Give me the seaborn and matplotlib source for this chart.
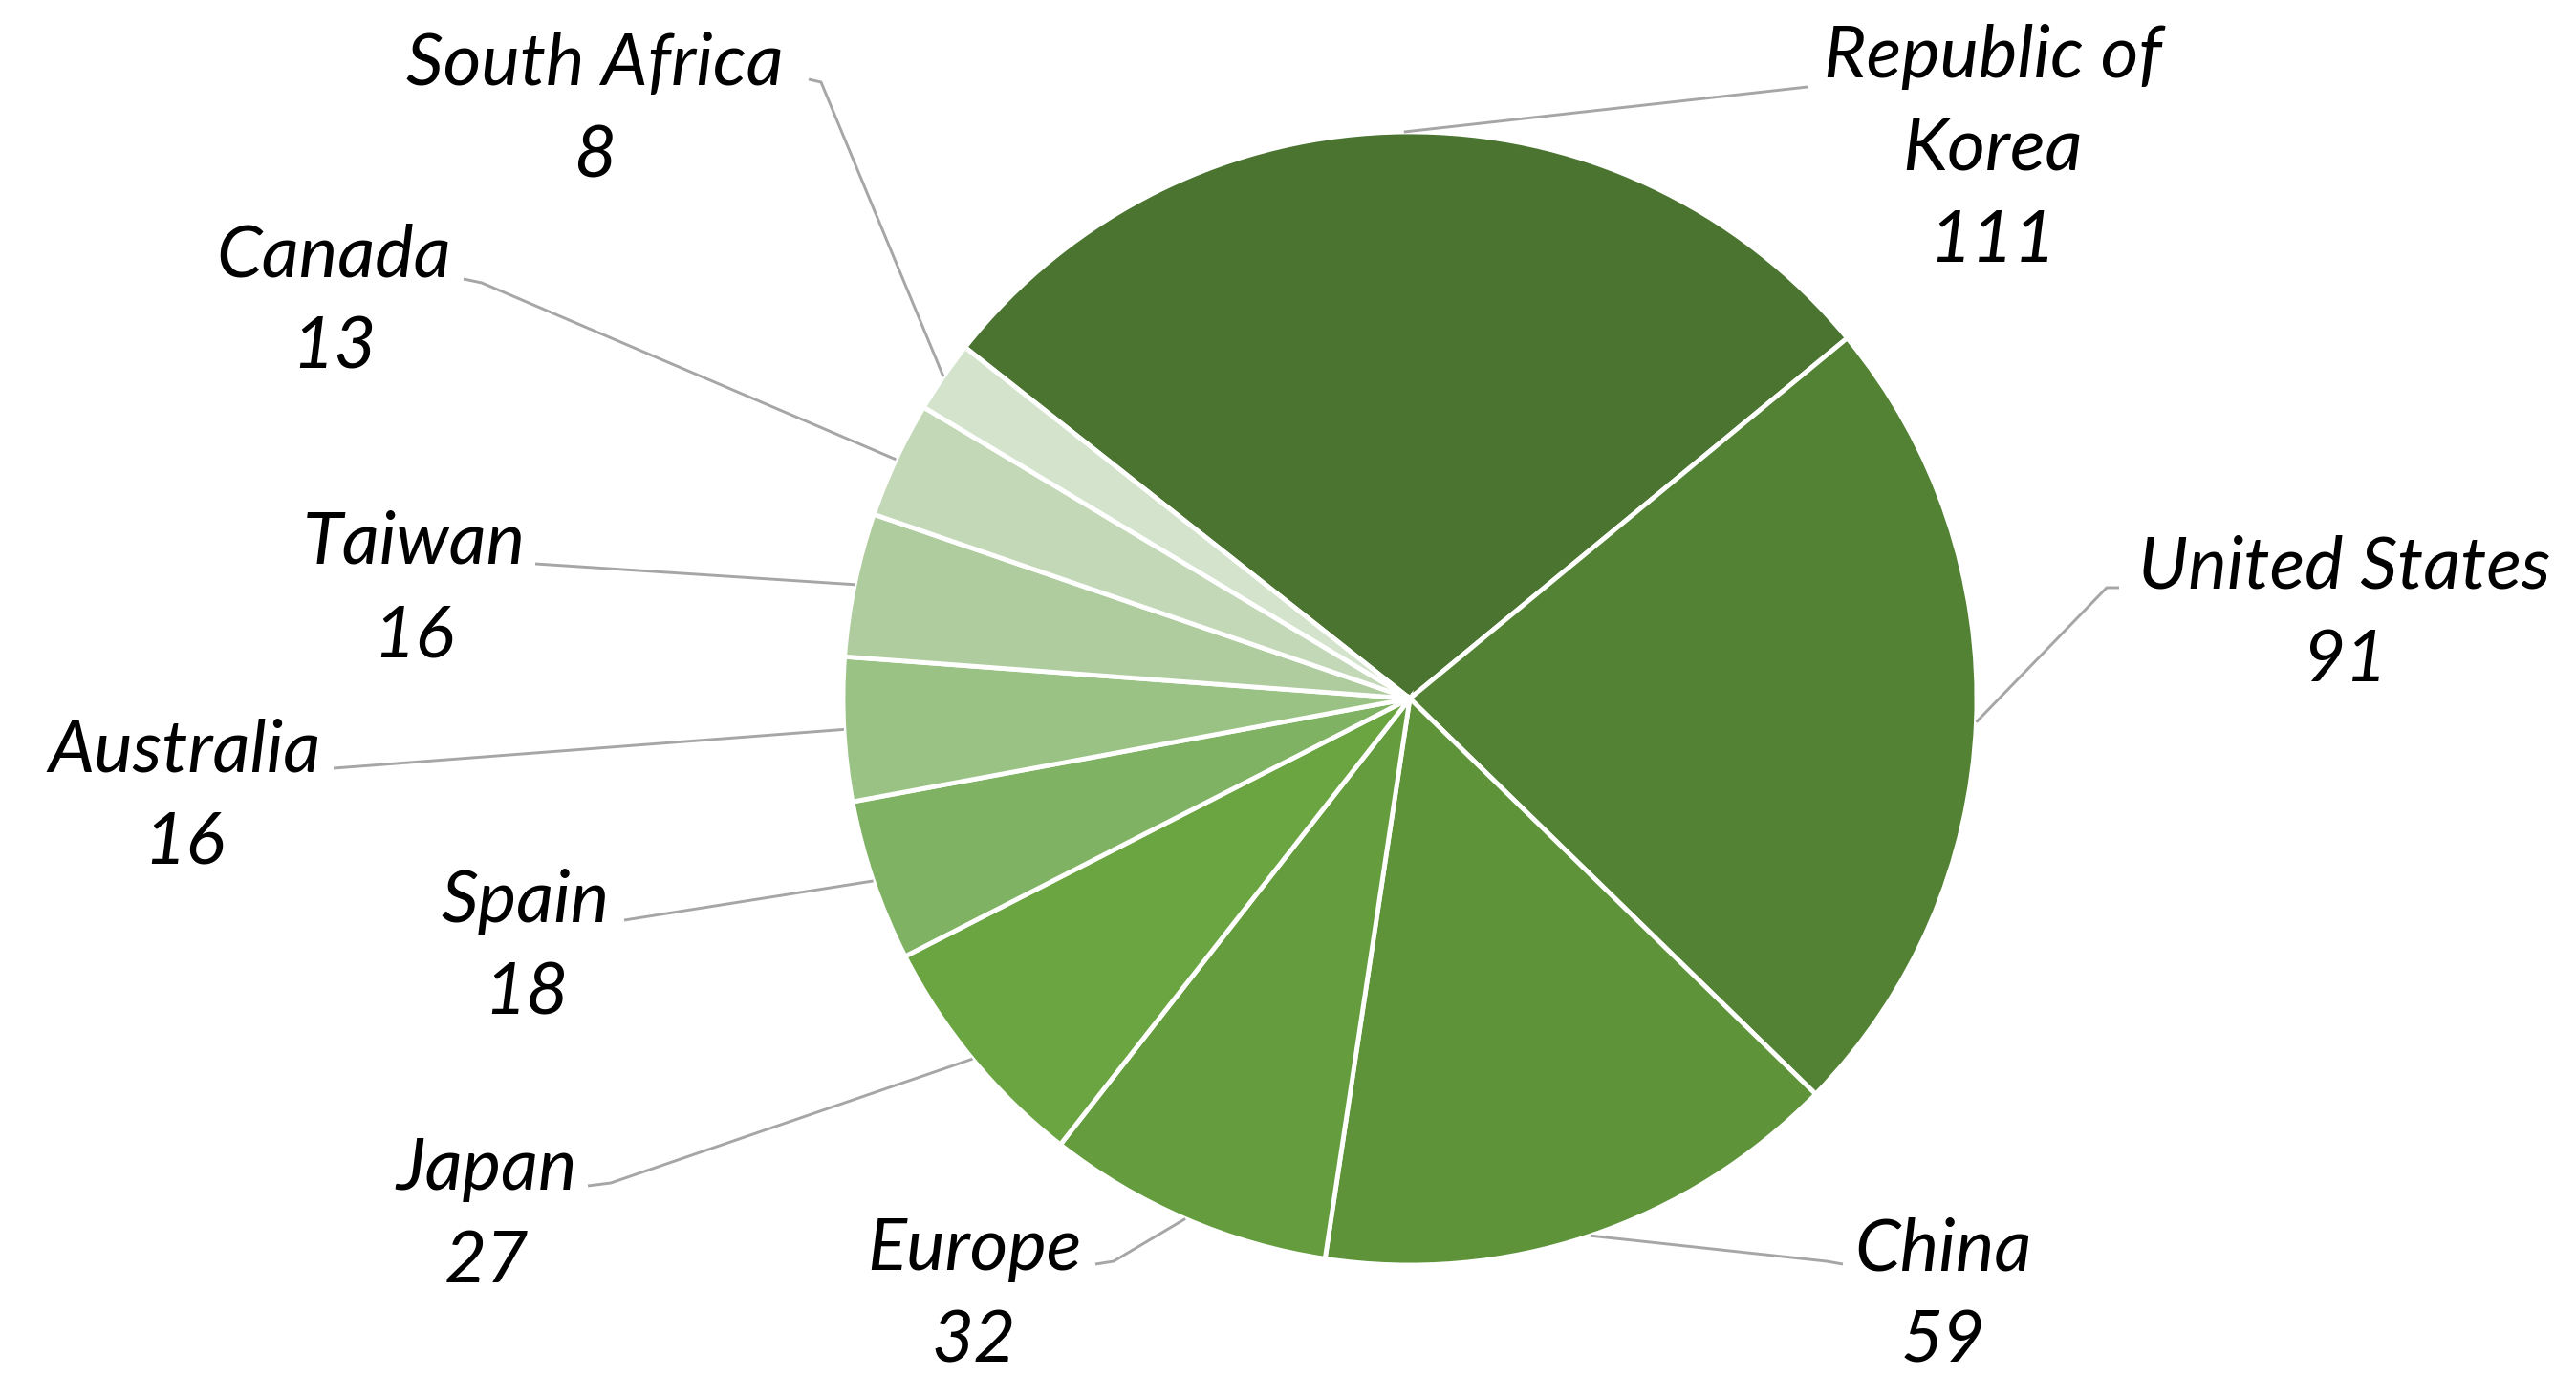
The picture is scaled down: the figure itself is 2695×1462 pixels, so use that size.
import numpy as np
import matplotlib
matplotlib.use("Agg")
import matplotlib.pyplot as plt
import seaborn as sns

# data, clockwise from the top-left
countries = ["Republic of\nKorea", "United States", "China", "Europe", "Japan",
             "Spain", "Australia", "Taiwan", "Canada", "South Africa"]
counts = [111, 91, 59, 32, 27, 18, 16, 16, 13, 8]
greens = ["#4A7430", "#538234", "#5E933A", "#649C3E", "#6BA542",
          "#80B263", "#9BC285", "#AFCC9E", "#C3D8B7", "#D4E3CC"]

# label layout in image pixels (y from top): text centre and leader elbow
label_xy = [(2085, 156), (2453, 643), (2033, 1356), (1019, 1356), (509, 1272),
            (550, 992), (193, 834), (433, 617), (349, 316), (622, 116)]
elbow_xy = [(1891, 91), (2204, 615), (1911, 1320), (1165, 1320), (639, 1238),
            (653, 963), (349, 804), (560, 590), (504, 296), (859, 86)]
hook_xy = [(1891, 91), (2217, 615), (1928, 1323), (1146, 1323), (615, 1241),
           (653, 963), (349, 804), (560, 590), (485, 292), (846, 83)]

W, H = 2695, 1462
sns.set_theme(style="white")
plt.rcParams["font.family"] = ["Lato", "DejaVu Sans"]

fig = plt.figure(figsize=(W / 100, H / 100), dpi=100)
ax = fig.add_axes([0, 0, 1, 1])

cx, cy, r = 1475, H - 731, 593
palette = sns.color_palette(greens)
wedges, _ = ax.pie(counts, colors=palette, startangle=141.7, counterclock=False,
                   center=(cx, cy), radius=r, frame=True,
                   wedgeprops=dict(edgecolor="white", linewidth=3.5))
ax.set_xlim(0, W)
ax.set_ylim(0, H)
ax.set_aspect("equal")
ax.axis("off")

for w, name, n, lxy, exy, hxy in zip(wedges, countries, counts, label_xy, elbow_xy, hook_xy):
    mid = np.deg2rad((w.theta1 + w.theta2) / 2)
    px, py = cx + r * np.cos(mid), cy + r * np.sin(mid)
    ax.plot([px, exy[0], hxy[0]], [py, H - exy[1], H - hxy[1]],
            color="#A6A6A6", lw=2.1, solid_capstyle="butt", zorder=1)
    ax.text(lxy[0], H - lxy[1], f"{name}\n{n}", ha="center", va="center",
            fontsize=55, fontstyle="italic", color="black", linespacing=1.5)

fig.savefig("out.png", dpi=100, facecolor="white")
